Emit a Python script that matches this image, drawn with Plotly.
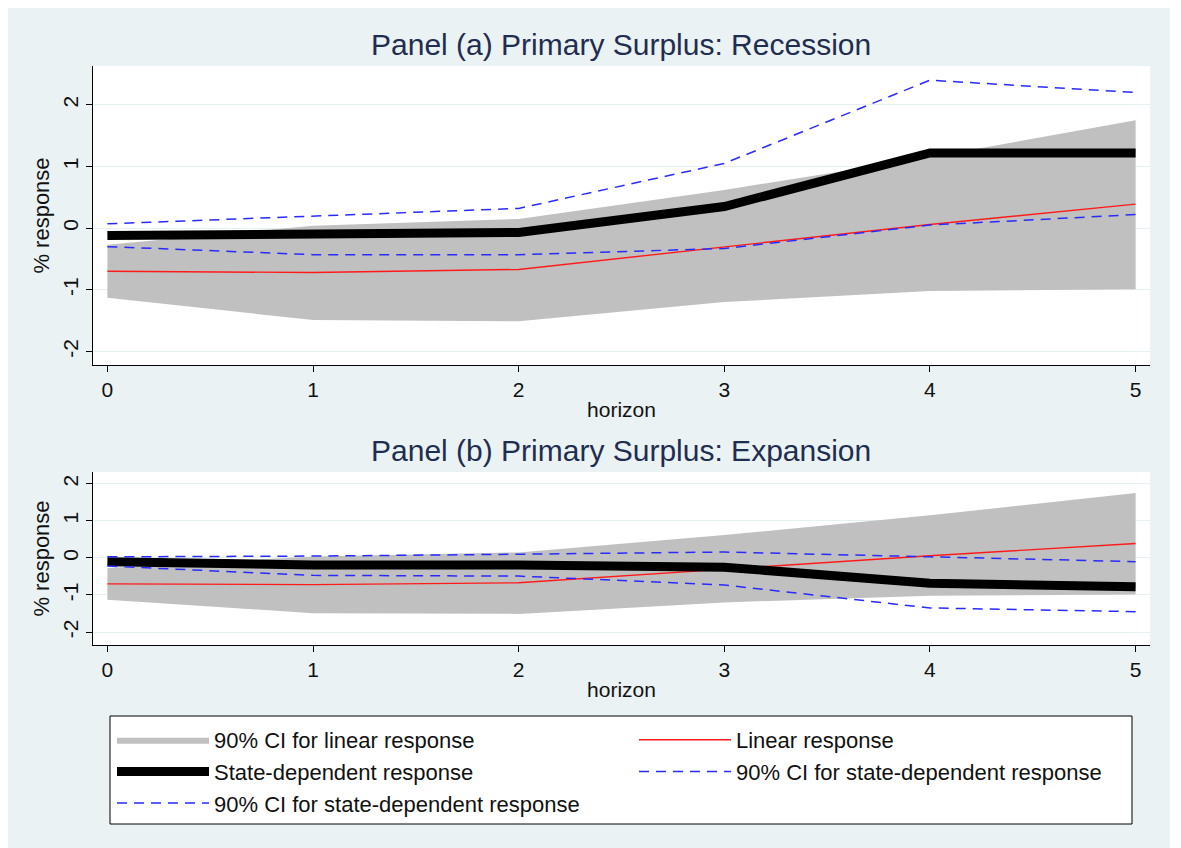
"""Primary surplus responses: recession vs expansion (Plotly)"""
import plotly.graph_objects as go
from plotly.subplots import make_subplots

horizon = [0, 1, 2, 3, 4, 5]
ytick_vals = [-2, -1, 0, 1, 2]
ytick_text = ["-2", "-1", "0", "1", "2"]

# linear model (same in both panels)
lin_resp = [-0.70, -0.72, -0.67, -0.31, 0.06, 0.39]
lin_ci_lo = [-1.13, -1.49, -1.51, -1.20, -1.02, -0.99]
lin_ci_hi = [-0.27, 0.04, 0.15, 0.62, 1.15, 1.75]

# state-dependent: recession
sd_rec = [-0.12, -0.10, -0.07, 0.35, 1.22, 1.22]
sd_rec_hi = [0.07, 0.20, 0.32, 1.05, 2.40, 2.20]
sd_rec_lo = [-0.30, -0.43, -0.43, -0.33, 0.05, 0.22]

# state-dependent: expansion
sd_exp = [-0.10, -0.19, -0.19, -0.25, -0.68, -0.78]
sd_exp_hi = [0.03, 0.05, 0.10, 0.16, 0.03, -0.10]
sd_exp_lo = [-0.22, -0.47, -0.49, -0.73, -1.35, -1.45]

panels = [
    ("Panel (a) Primary Surplus: Recession", sd_rec, sd_rec_lo, sd_rec_hi),
    ("Panel (b) Primary Surplus: Expansion", sd_exp, sd_exp_lo, sd_exp_hi),
]

GRAY = "#c0c0c0"
BLUE = "#2a2aff"
RED = "#ff1a1a"
BG = "#eaf2f3"
FONT = "Liberation Sans, Arial, sans-serif"

# page offsets the figure by the body margin (8px)
W, H, OFF = 1162, 840, 8


def fx(px):
    return (px - OFF) / W


def fy(py):
    return 1 - (py - OFF) / H


fig = make_subplots(rows=2, cols=1)

for i, (title, sd, lo, hi) in enumerate(panels):
    row = i + 1
    first = i == 0
    fig.add_trace(go.Scatter(x=horizon, y=lin_ci_lo, mode="lines", line=dict(width=0, color=GRAY),
                             showlegend=False, hoverinfo="skip"), row=row, col=1)
    fig.add_trace(go.Scatter(x=horizon, y=lin_ci_hi, mode="lines", line=dict(width=0, color=GRAY),
                             fill="tonexty", fillcolor=GRAY, name="90% CI for linear response",
                             showlegend=first), row=row, col=1)
    fig.add_trace(go.Scatter(x=horizon, y=lin_resp, mode="lines", line=dict(width=1.4, color=RED),
                             name="Linear response", showlegend=first), row=row, col=1)
    fig.add_trace(go.Scatter(x=horizon, y=sd, mode="lines", line=dict(width=9, color="black"),
                             name="State-dependent response", showlegend=first), row=row, col=1)
    fig.add_trace(go.Scatter(x=horizon, y=hi, mode="lines", line=dict(width=1.5, color=BLUE, dash="10px,7px"),
                             name="90% CI for state-dependent response", showlegend=first), row=row, col=1)
    fig.add_trace(go.Scatter(x=horizon, y=lo, mode="lines", line=dict(width=1.5, color=BLUE, dash="10px,7px"),
                             name="90% CI for state-dependent response", showlegend=first), row=row, col=1)

axis_common = dict(showline=True, linecolor="black", linewidth=1.2, ticks="outside",
                   ticklen=6, tickcolor="black", tickfont=dict(size=21, color="#111111"),
                   zeroline=False, mirror=False)
xtitle = dict(text="horizon", font=dict(size=21, color="#111111"), standoff=2)
ytitle = dict(text="% response", font=dict(size=22, color="#111111"), standoff=2)

xdom = [fx(93), fx(1150)]
fig.update_layout(
    xaxis=dict(domain=xdom, range=[-0.07, 5.07], tickvals=horizon, showgrid=False, anchor="y",
               title=xtitle, **axis_common),
    yaxis=dict(domain=[fy(365), fy(66)], range=[-2.22, 2.63], tickvals=ytick_vals, ticktext=ytick_text,
               tickangle=-90, showgrid=True, gridcolor="#e6eff1", gridwidth=1.2, anchor="x",
               title=ytitle, **axis_common),
    xaxis2=dict(domain=xdom, range=[-0.07, 5.07], tickvals=horizon, showgrid=False, anchor="y2",
                title=xtitle, **axis_common),
    yaxis2=dict(domain=[fy(645), fy(472)], range=[-2.35, 2.32], tickvals=ytick_vals, ticktext=ytick_text,
                tickangle=-90, showgrid=True, gridcolor="#e6eff1", gridwidth=1.2, anchor="x2",
                title=ytitle, **axis_common),
)

for title, ypx in [(panels[0][0], 45), (panels[1][0], 450)]:
    fig.add_annotation(text=title, xref="paper", yref="paper", x=fx(621), y=fy(ypx),
                       xanchor="center", yanchor="middle", showarrow=False,
                       font=dict(size=30, color="#1f2d50", family=FONT))

# legend frame
fig.add_shape(type="rect", xref="paper", yref="paper", x0=fx(110), x1=fx(1132),
              y0=fy(824), y1=fy(716), fillcolor="white", line=dict(color="black", width=1),
              layer="below")

fig.update_layout(
    width=W, height=H,
    margin=dict(l=0, r=0, t=0, b=0),
    paper_bgcolor=BG, plot_bgcolor="white",
    font=dict(family=FONT, size=20, color="#111111"),
    showlegend=True,
    legend=dict(orientation="h", x=fx(112), y=fy(719), xanchor="left", yanchor="top",
                bgcolor="rgba(0,0,0,0)", borderwidth=0, itemwidth=92,
                entrywidth=415, entrywidthmode="pixels", traceorder="normal",
                font=dict(size=22, color="#111111")),
)

fig.write_html("out.html")
